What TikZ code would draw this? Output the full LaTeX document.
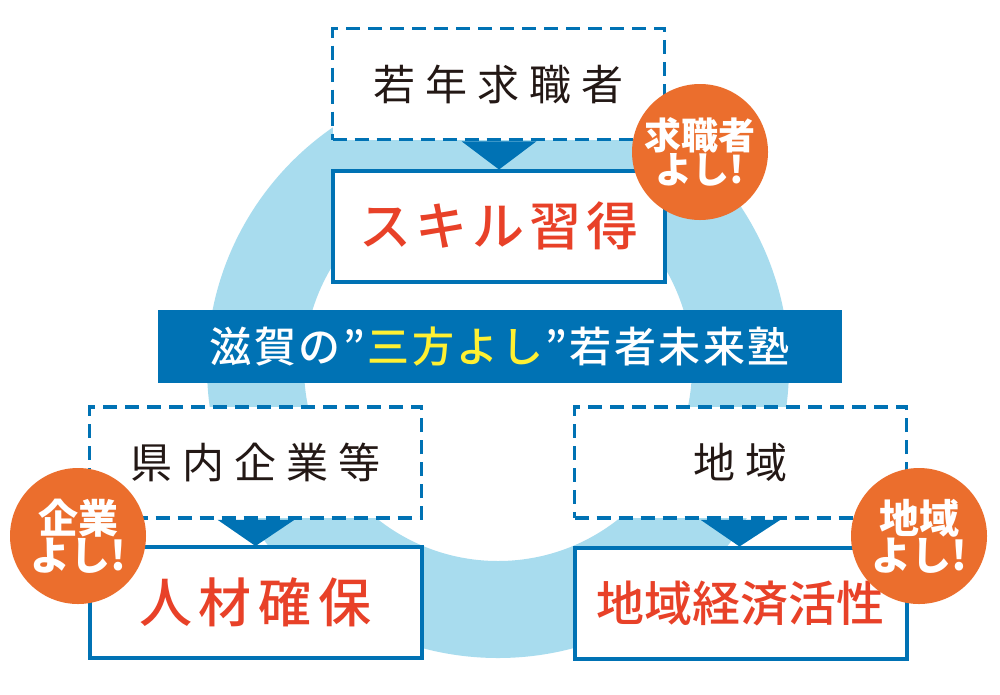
\documentclass[tikz,border=0pt]{standalone}
\usepackage{fontspec}
\newfontfamily\jp{Noto Sans CJK JP}
\newfontfamily\jpm{Noto Sans CJK JP Medium}
\definecolor{mainblue}{RGB}{0,114,180}
\definecolor{ringblue}{RGB}{168,220,238}
\definecolor{badge}{RGB}{235,110,45}
\definecolor{redtxt}{RGB}{232,65,40}
\definecolor{yel}{RGB}{255,240,50}
\definecolor{ink}{RGB}{35,24,21}
\newcommand\gapA{\hspace{10pt}}
\newcommand\gapB{\hspace{5pt}}
\newcommand\gapC{\hspace{2.5pt}}
\tikzset{
  dbox/.style={draw=mainblue, line width=3.5pt, dash pattern=on 14pt off 8pt, fill=white,
    minimum width=332pt, minimum height=111pt, inner sep=0pt, text=ink,
    font=\jp\fontsize{42pt}{42pt}\selectfont},
  sbox/.style={draw=mainblue, line width=4pt, fill=white, outer sep=0pt,
    minimum width=332pt, minimum height=111pt, inner sep=0pt, text=redtxt},
  frame/.style={draw=mainblue, line width=4pt},
  badgec/.style={circle, fill=badge, minimum size=136pt, inner sep=0pt, text=white, align=center},
  arrowtri/.style={fill=mainblue},
}
\begin{document}
\begin{tikzpicture}[x=1pt,y=-1pt]
\useasboundingbox[fill=white] (0,0) rectangle (1000,694);
% ring
\fill[ringblue, even odd rule] (498,367) circle[radius=291pt] (498,367) circle[radius=194pt];
% dashed source boxes
\node[dbox] (seek) at (498.5,84) {若\gapA 年\gapA 求\gapA 職\gapA 者};
\node[dbox] (corp) at (255.5,462.5) {県\gapA 内\gapA 企\gapA 業\gapA 等};
\node[dbox] (area) at (740.5,462.5) {地\gapA 域\hspace{8pt}};
% result boxes
\node[sbox, font=\jpm\fontsize{52pt}{52pt}\selectfont] (skill) at (499,226) {ス\gapB キ\gapB ル\gapB 習\gapB 得};
\node[sbox, font=\jpm\fontsize{53pt}{53pt}\selectfont] (staff) at (255.5,602.5) {人\hspace{7pt}材\hspace{7pt}確\hspace{7pt}保};
\node[sbox, font=\jpm\fontsize{48pt}{48pt}\selectfont] (econ) at (740.5,603) {地域経済活性\hspace{6pt}};
% arrow triangles
\fill[arrowtri] ([xshift=-37pt]seek.south) -- ([xshift=38pt]seek.south) -- ([yshift=1pt]skill.north) -- cycle;
\fill[arrowtri] ([xshift=-38pt]corp.south) -- ([xshift=39pt]corp.south) -- ([yshift=1pt]staff.north) -- cycle;
\fill[arrowtri] ([xshift=-40pt]area.south) -- ([xshift=40pt]area.south) -- ([yshift=1pt,xshift=-1pt]econ.north) -- cycle;
\draw[frame] (econ.north west) rectangle (econ.south east);
\draw[frame] (skill.north west) rectangle (skill.south east);
\draw[frame] (staff.north west) rectangle (staff.south east);
% banner
\node[fill=mainblue, minimum width=684pt, minimum height=73pt, inner sep=0pt, text=white,
  font=\jpm\fontsize{42pt}{42pt}\selectfont] (title) at (500,346.5)
  {滋\gapC 賀\gapC の\gapC ”\gapC\textcolor{yel}{三\gapC 方\gapC よ\gapC し}\gapC ”\gapC 若\gapC 者\gapC 未\gapC 来\gapC 塾};
% badges
\node[badgec, font=\jp\bfseries\fontsize{37pt}{34pt}\selectfont] (b1) at (700,152) {求職者\\よし!};
\node[badgec, font=\jp\bfseries\fontsize{40pt}{34pt}\selectfont] (b2) at (78,536) {企業\\よし!};
\node[badgec, font=\jp\bfseries\fontsize{40pt}{34pt}\selectfont] (b3) at (919,536) {地域\\よし!};
\end{tikzpicture}
\end{document}
